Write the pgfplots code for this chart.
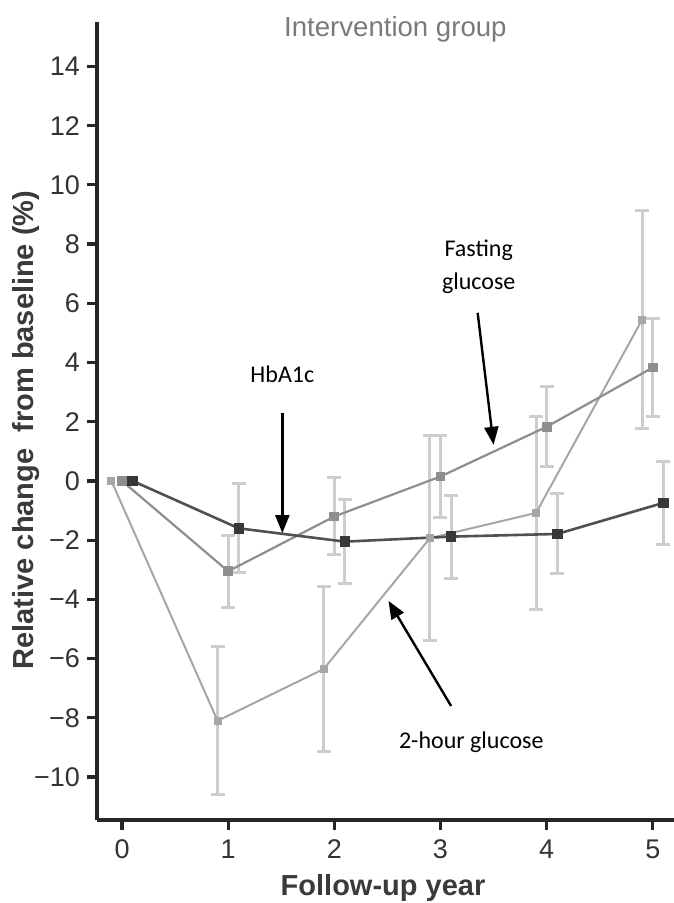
\documentclass[border=0pt]{standalone}
\usepackage{pgfplots}
\pgfplotsset{compat=1.18}
\usepackage{fontspec}
\setmainfont{Liberation Sans}
\newfontfamily\calibri{Carlito}
\usetikzlibrary{arrows.meta}
\definecolor{errc}{HTML}{CDCDCD}
\definecolor{axc}{HTML}{262626}
\definecolor{tickc}{HTML}{333333}
\definecolor{labc}{HTML}{3A3A3A}
\definecolor{titc}{HTML}{7A7A7A}
\definecolor{ctwo}{HTML}{A6A6A6}
\definecolor{cfast}{HTML}{8E8E8E}
\definecolor{chba}{HTML}{505050}
\definecolor{chbm}{HTML}{383838}

\pgfplotstableread{
x y
-0.1 0
0.9 -8.1
1.9 -6.35
2.9 -1.93
3.9 -1.08
4.9 5.45
}\twohour
\pgfplotstableread{
x y
0.0 0
1.0 -3.05
2.0 -1.2
3.0 0.15
4.0 1.83
5.0 3.83
}\fasting
\pgfplotstableread{
x y
0.1 0
1.1 -1.6
2.1 -2.05
3.1 -1.88
4.1 -1.79
5.1 -0.74
}\hba

\begin{document}
\begin{tikzpicture}
\begin{axis}[
  at={(48.5bp,41.5bp)}, anchor=south west,
  scale only axis, width=288.5bp, height=399bp,
  xmin=-0.236, xmax=5.2, ymin=-11.45, ymax=15.5,
  axis lines=left, axis line style={-, line width=2bp, draw=axc},
  tick align=outside, major tick length=5bp,
  tick style={line width=1.6bp, draw=axc},
  xtick={0,1,2,3,4,5}, xticklabels={0,1,2,3,4,5},
  ytick={-10,-8,-6,-4,-2,0,2,4,6,8,10,12,14},
  yticklabels={−10,−8,−6,−4,−2,0,2,4,6,8,10,12,14},
  tick label style={font=\fontsize{13.5bp}{16bp}\selectfont, text=tickc},
  xticklabel style={yshift=-1.5bp},
  xlabel={Follow-up year},
  ylabel={Relative change\ \ from baseline (\%)},
  label style={font=\bfseries\fontsize{14.5bp}{17bp}\selectfont, text=labc},
  xlabel style={at={(axis description cs:0.4957,-0.094)}, anchor=base},
  ylabel style={at={(axis description cs:-0.123,0.4887)}, anchor=center},
  clip=false,
  every error bar/.style={},
]
% error bars (drawn first, beneath lines)
\addplot[forget plot, draw=none, mark=none,
  error bars/.cd, y dir=both, y explicit,
  error bar style={line width=1.5bp, draw=errc},
  error mark options={rotate=90, line width=1.5bp, mark size=3.5bp, draw=errc}]
  coordinates {(0.9,-8.1) +- (0,2.5) (1.9,-6.35) +- (0,2.8) (2.9,-1.93) +- (0,3.45) (3.9,-1.08) +- (0,3.25) (4.9,5.45) +- (0,3.68)};
\addplot[forget plot, draw=none, mark=none,
  error bars/.cd, y dir=both, y explicit,
  error bar style={line width=1.5bp, draw=errc},
  error mark options={rotate=90, line width=1.5bp, mark size=3.5bp, draw=errc}]
  coordinates {(1.0,-3.05) +- (0,1.22) (2.0,-1.2) +- (0,1.3) (3.0,0.15) +- (0,1.4) (4.0,1.83) +- (0,1.35) (5.0,3.83) +- (0,1.64)};
\addplot[forget plot, draw=none, mark=none,
  error bars/.cd, y dir=both, y explicit,
  error bar style={line width=1.5bp, draw=errc},
  error mark options={rotate=90, line width=1.5bp, mark size=3.5bp, draw=errc}]
  coordinates {(1.1,-1.6) +- (0,1.5) (2.1,-2.05) +- (0,1.42) (3.1,-1.88) +- (0,1.4) (4.1,-1.79) +- (0,1.35) (5.1,-0.74) +- (0,1.41)};
% series
\addplot[line width=1bp, color=ctwo, mark=square*, mark size=1.5bp, mark options={fill=ctwo, draw=ctwo}] table[x=x,y=y] {\twohour};
\addplot[line width=1.1bp, color=cfast, mark=square*, mark size=1.9bp, mark options={fill=cfast, draw=cfast}] table[x=x,y=y] {\fasting};
\addplot[line width=1.3bp, color=chba, mark=square*, mark size=2bp, mark options={fill=chbm, draw=chbm}] table[x=x,y=y] {\hba};
% title and annotations
\node[anchor=base, text=titc, font=\fontsize{13.8bp}{16bp}\selectfont] at (axis cs:2.575,15.0) {Intervention group};
\node[anchor=base, font=\calibri\fontsize{12bp}{14bp}\selectfont] at (axis cs:1.51,3.31) {HbA1c};
\node[anchor=base, font=\calibri\fontsize{12bp}{14bp}\selectfont] at (axis cs:3.36,7.57) {Fasting};
\node[anchor=base, font=\calibri\fontsize{12bp}{14bp}\selectfont] at (axis cs:3.36,6.45) {glucose};
\node[anchor=base, font=\calibri\fontsize{12bp}{14bp}\selectfont] at (axis cs:3.29,-9.05) {2-hour glucose};
\draw[line width=1.2bp, -{Triangle[width=7bp,length=9bp]}] (axis cs:1.51,2.3) -- (axis cs:1.51,-1.76);
\draw[line width=1.2bp, -{Triangle[width=7bp,length=9bp]}] (axis cs:3.35,5.68) -- (axis cs:3.50,1.22);
\draw[line width=1.2bp, -{Triangle[width=7bp,length=9bp]}] (axis cs:3.10,-7.6) -- (axis cs:2.51,-4.05);
\end{axis}
\pgfresetboundingbox
\path[use as bounding box] (0,0) rectangle (337bp,451.5bp);
\end{tikzpicture}
\end{document}
